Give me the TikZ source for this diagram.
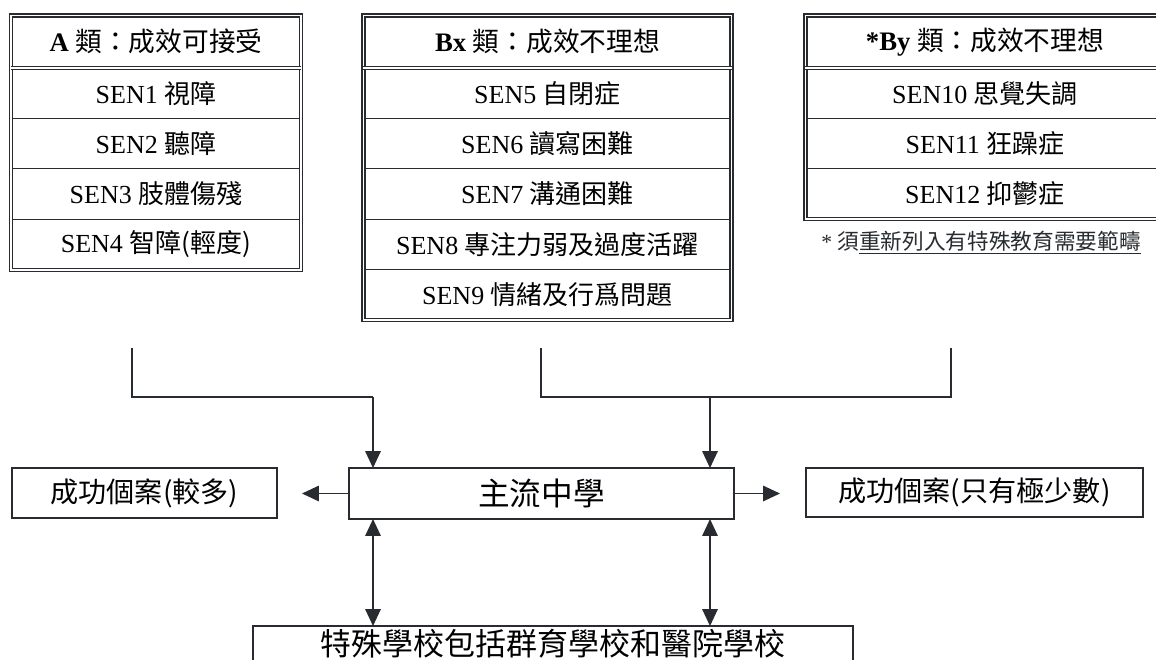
\documentclass[tikz,border=0pt]{standalone}
\usepackage{fontspec}
\setmainfont{Liberation Serif}
\newfontfamily\cjk{Noto Sans CJK TC}
\newcommand{\zh}[1]{{\cjk\mdseries #1}}
\usetikzlibrary{arrows.meta}
\definecolor{ink}{RGB}{40,44,48}
\tikzset{
  row/.style={draw=ink, line width=0.8pt, minimum height=1.26cm, inner sep=0pt, outer sep=0pt,
    font=\fontsize{18.5}{20}\selectfont},
  head/.style={row, minimum height=1.3125cm, font=\fontsize{19}{20}\selectfont\bfseries},
  frame/.style={draw=ink, line width=0.85pt, double=white, double distance=1.3pt},
  caseboxes/.style={draw=ink, line width=0.9pt, inner sep=0pt, outer sep=0pt,
    font=\cjk\fontsize{20}{22}\selectfont},
  link/.style={draw=ink, line width=1pt},
  tip/.style={-{Triangle[width=11pt,length=12pt]}},
  tips/.style={{Triangle[width=11pt,length=12pt]}-{Triangle[width=11pt,length=12pt]}}
}
\begin{document}
\begin{tikzpicture}[x=0.025cm,y=-0.025cm]
  \useasboundingbox (0,0) rectangle (1156,659);
  \clip (0,0) rectangle (1156,659);
  \fill[white] (0,0) rectangle (1156,659);
  % table A
  \begin{scope}[every node/.append style={minimum width=7.24cm}]
    \path
      (156,41.75) node[head] (a0){A \zh{類：成效可接受}}
      (156,93.2) node[row] (a1){SEN1 \zh{視障}}
      (156,143.6) node[row] (a2){SEN2 \zh{聽障}}
      (156,194.0) node[row] (a3){SEN3 \zh{肢體傷殘}}
      (156,244.4) node[row] (a4){SEN4 \zh{智障(輕度)}};
  \end{scope}
  % table Bx
  \begin{scope}[every node/.append style={minimum width=9.2cm}]
    \path
      (547.5,41.75) node[head] (b0){Bx \zh{類：成效不理想}}
      (547.5,93.2) node[row] (b1){SEN5 \zh{自閉症}}
      (547.5,143.6) node[row] (b2){SEN6 \zh{讀寫困難}}
      (547.5,194.0) node[row] (b3){SEN7 \zh{溝通困難}}
      (547.5,244.4) node[row] (b4){SEN8 \zh{專注力弱及過度活躍}}
      (547.5,294.8) node[row] (b5){SEN9 \zh{情緒及行爲問題}};
  \end{scope}
  % table By
  \begin{scope}[every node/.append style={minimum width=8.975cm}]
    \path
      (985,41.75) node[head] (c0){*By \zh{類：成效不理想}}
      (985,93.2) node[row] (c1){SEN10 \zh{思覺失調}}
      (985,143.6) node[row] (c2){SEN11 \zh{狂躁症}}
      (985,194.0) node[row] (c3){SEN12 \zh{抑鬱症}};
  \end{scope}
  \draw[frame] (a0.north west) rectangle (a4.south east);
  \draw[frame] (a0.south west) -- (a0.south east);
  \draw[frame] (b0.north west) rectangle (b5.south east);
  \draw[frame] (b0.south west) -- (b0.south east);
  \draw[frame] (c0.north west) rectangle (c3.south east);
  \draw[frame] (c0.south west) -- (c0.south east);
  \node[font=\fontsize{15.4}{17}\selectfont, text=ink] (note) at (981,243)
    {* \zh{須\underline{重新列入有特殊教育需要範疇}}};
  % schools
  \path
    (541.5,493.5) node[caseboxes, minimum width=9.625cm, minimum height=1.275cm,
      font=\cjk\fontsize{22.5}{24}\selectfont] (main){主流中學}
    (144.5,493) node[caseboxes, minimum width=6.625cm, minimum height=1.25cm] (few){成功個案(較多)}
    (974.5,492.5) node[caseboxes, minimum width=8.425cm, minimum height=1.225cm] (rare){成功個案(只有極少數)}
    (553,644) node[caseboxes, minimum width=15cm, minimum height=0.9cm,
      font=\cjk\fontsize{22}{24}\selectfont] (special){特殊學校包括群育學校和醫院學校};
  \coordinate (aup) at (132,348);
  \coordinate (ajoin) at (373,397);
  \coordinate (bup) at (541,348);
  \coordinate (cup) at (951,348);
  \coordinate (bjoin) at (710,397);
  \coordinate (ltip) at (302,493.5);
  \coordinate (rtip) at (780,493.5);
  \begin{scope}[link]
    \draw (aup) |- (ajoin);
    \draw[tip] (ajoin) -- (ajoin |- main.north);
    \draw (bup) |- (cup |- bjoin) -- (cup);
    \draw[tip] (bjoin) -- (bjoin |- main.north);
    \draw[tip] (main.west |- ltip) -- (ltip);
    \draw[tip] (main.east |- rtip) -- (rtip);
    \draw[tips] (ajoin |- main.south) -- (ajoin |- special.north);
    \draw[tips] (bjoin |- main.south) -- (bjoin |- special.north);
  \end{scope}
\end{tikzpicture}
\end{document}
